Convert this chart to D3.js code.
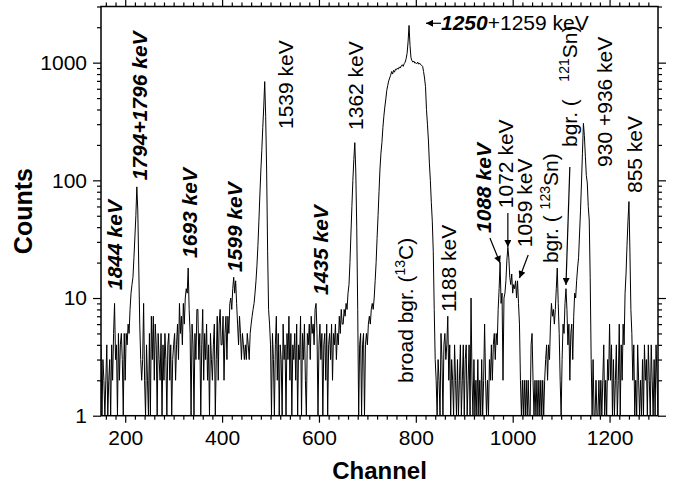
<!DOCTYPE html>
<html>
<head>
<meta charset="utf-8">
<script src="https://cdn.jsdelivr.net/npm/d3@7"></script>
<style>
    body { margin: 0; background: #fff; }
    text { font-family: "Liberation Sans", Arial, sans-serif; fill: #000; }
</style>
</head>
<body>
<div id="chart"></div>
<script>

// spectrum counts, channel 150 ... 1300 every 2 channels
const chStart = 150
const chStep = 2
const counts = [
    4,1,3,2,1,2,4,1,2,3,1,4,2,5,9,3,4,1,5,2,4,5,3,1,5,
    2,5,4,6,5,8,11,13,15,22,33,50,88,55,18,6,3,2,3,9,2,1,4,2,1,
    5,1,7,3,7,2,6,4,1,5,3,2,5,1,4,2,5,3,1,4,5,2,4,1,3,
    4,5,2,4,6,3,9,5,7,4,9,6,10,12,11,18,8,5,1,6,4,1,5,3,8,
    8,3,5,1,4,8,2,5,3,6,2,4,1,5,3,2,4,6,1,3,7,2,6,8,4,
    4,7,2,5,7,3,7,5,9,10,8,12,15,11,14,9,6,4,7,5,3,5,4,3,4,
    3,5,4,3,5,6,7,8,9,11,14,19,28,45,75,120,180,280,420,690,350,120,25,8,6,
    4,1,5,3,1,4,7,2,5,1,4,3,1,6,3,4,1,5,3,7,2,5,1,4,3,
    5,2,6,1,4,3,7,1,5,3,6,2,1,5,4,6,3,7,5,6,4,8,9,5,1,
    4,6,3,5,1,4,5,2,6,1,4,5,3,6,2,5,4,6,3,5,4,7,5,8,6,
    6,8,7,9,8,11,13,20,35,60,100,150,209,120,40,8,1,4,5,1,4,5,1,4,5,
    4,6,7,6,8,9,8,10,14,20,32,50,80,125,170,210,280,350,420,490,580,640,700,740,780,
    840,800,860,830,880,870,900,880,920,900,940,960,930,980,1010,1080,1200,1500,2070,1400,1100,1040,1010,1030,990,
    1000,980,1010,970,990,960,950,930,840,740,625,400,300,220,140,100,65,45,25,8,3,2,1,3,2,
    1,5,3,1,4,5,3,4,7,2,4,1,3,2,1,4,2,1,3,1,2,4,1,2,4,
    1,3,4,1,2,4,1,10,2,1,3,1,2,1,3,1,2,1,3,1,2,6,2,1,2,
    1,3,2,4,2,4,5,3,5,4,8,12,20,9,11,2,10,11,14,21,27,22,15,13,16,
    11,13,12,14,10,14,9,6,2,1,2,1,2,1,2,1,2,1,1,4,5,2,1,2,1,
    2,1,2,1,2,1,2,1,2,3,4,2,4,3,6,9,7,8,6,8,12,18,9,5,2,
    1,3,6,5,9,12,8,4,6,2,5,6,3,7,11,10,14,18,22,35,55,95,170,305,240,
    160,110,95,60,46,15,3,1,3,1,1,2,1,1,2,1,2,1,2,4,1,2,1,3,2,
    6,2,4,1,3,1,2,4,1,2,6,1,4,2,6,4,11,16,28,45,66,25,8,5,2,
    4,1,2,1,4,2,1,2,1,3,1,4,2,3,1,4,2,1,4,2,1,3,1,4,2,
    1
]

const xTicks = [200, 400, 600, 800, 1000, 1200]
const yTicks = [1, 10, 100, 1000]

// peak labels: channel of the text baseline, count where the text starts
const peakLabels = [
    {ch: 193, c: 11.7, parts: [{t: "1844 keV", b: true}]},
    {ch: 245, c: 100, parts: [{t: "1794+1796 keV", b: true}]},
    {ch: 348, c: 21.9, parts: [{t: "1693 keV", b: true}]},
    {ch: 441, c: 16.6, parts: [{t: "1599 keV", b: true}]},
    {ch: 546, c: 273, parts: [{t: "1539 keV"}]},
    {ch: 619, c: 10.6, parts: [{t: "1435 keV", b: true}]},
    {ch: 691, c: 268, parts: [{t: "1362 keV"}]},
    {ch: 794, c: 1.9, parts: [{t: "broad bgr. ("}, {t: "13", sup: true}, {t: "C)"}]},
    {ch: 882, c: 7.6, parts: [{t: "1188 keV"}]},
    {ch: 955, c: 35.7, parts: [{t: "1088 keV", b: true}]},
    {ch: 1000, c: 58, parts: [{t: "1072 keV"}]},
    {ch: 1040, c: 27, parts: [{t: "1059 keV"}]},
    {ch: 1093, c: 19.8, parts: [{t: "bgr. (\u00a0"}, {t: "123", sup: true}, {t: "Sn)"}]},
    {ch: 1133, c: 192, parts: [{t: "bgr. (\u00a0\u00a0\u00a0"}, {t: "121", sup: true}, {t: "Sn)"}]},
    {ch: 1204, c: 130, parts: [{t: "930 +936 keV"}]},
    {ch: 1266, c: 78, parts: [{t: "855 keV"}]}
]

// label for the narrow peak on top of the broad bump
const topLabel = {ch: 852, c: 1890, parts: [{t: "1250", b: true}, {t: "+1259 keV"}]}

// arrows: from (ch1, c1) to (ch2, c2)
const arrows = [
    {ch1: 852, c1: 2160, ch2: 821, c2: 2160},
    {ch1: 953, c1: 32.4, ch2: 974, c2: 19.8},
    {ch1: 990, c1: 52.8, ch2: 990, c2: 27.1},
    {ch1: 1032, c1: 23.2, ch2: 1014, c2: 14.8},
    {ch1: 1118, c1: 130, ch2: 1110, c2: 12.9}
]

const spectrum = counts.map((c, i) => ({ch: chStart + i * chStep, c: c}))

let margin = {top: 6.5, right: 27, bottom: 72.3, left: 101}
let totalW = 685, totalH = 488
let width = totalW - margin.left - margin.right
let height = totalH - margin.top - margin.bottom

let svg = d3.select("#chart").append("svg")
    .attr("width", totalW)
    .attr("height", totalH)

let g = svg.append("g")
    .attr("transform", `translate(${margin.left},${margin.top})`)

let defs = svg.append("defs")
defs.append("clipPath").attr("id", "plotClip")
    .append("rect").attr("width", width).attr("height", height)
defs.append("marker")
    .attr("id", "arrowHead")
    .attr("viewBox", "0 0 10 10")
    .attr("refX", 10).attr("refY", 5)
    .attr("markerWidth", 9).attr("markerHeight", 7)
    .attr("markerUnits", "userSpaceOnUse")
    .attr("orient", "auto")
    .append("path").attr("d", "M0,0L10,5L0,10z").attr("fill", "#000")

// scales
let x = d3.scaleLinear().domain([150, 1300]).range([0, width])
let y = d3.scaleLog().domain([1, 3000]).range([height, 0])

let xMinor = d3.range(160, 1300, 20).filter(v => !xTicks.includes(v))
let yMinor = []
yTicks.forEach(d => { for (let k = 2; k <= 9; k++) if (d * k <= 3000) yMinor.push(d * k) })

function styleAxis(sel) {
    sel.select(".domain").remove()
    sel.selectAll("line").attr("stroke", "#000").attr("stroke-width", 1.2)
    sel.selectAll("text").attr("font-size", 21).attr("fill", "#000")
        .style("font-family", '"Liberation Sans", Arial, sans-serif')
}

// bottom
g.append("g").attr("transform", `translate(0,${height})`)
    .call(d3.axisBottom(x).tickValues(xTicks).tickSize(7).tickPadding(7).tickFormat(d3.format("d")))
    .call(styleAxis)
g.append("g").attr("transform", `translate(0,${height})`)
    .call(d3.axisBottom(x).tickValues(xMinor).tickSize(4).tickFormat(""))
    .call(styleAxis)
// top
g.append("g")
    .call(d3.axisTop(x).tickValues(xTicks).tickSize(7).tickFormat(""))
    .call(styleAxis)
g.append("g")
    .call(d3.axisTop(x).tickValues(xMinor).tickSize(4).tickFormat(""))
    .call(styleAxis)
// left
g.append("g")
    .call(d3.axisLeft(y).tickValues(yTicks).tickSize(8).tickPadding(6).tickFormat(d3.format("d")))
    .call(styleAxis)
g.append("g")
    .call(d3.axisLeft(y).tickValues(yMinor).tickSize(4).tickFormat(""))
    .call(styleAxis)
// right
g.append("g").attr("transform", `translate(${width},0)`)
    .call(d3.axisRight(y).tickValues(yTicks).tickSize(8).tickFormat(""))
    .call(styleAxis)
g.append("g").attr("transform", `translate(${width},0)`)
    .call(d3.axisRight(y).tickValues(yMinor).tickSize(4).tickFormat(""))
    .call(styleAxis)

// frame
g.append("rect")
    .attr("width", width).attr("height", height)
    .attr("fill", "none").attr("stroke", "#000").attr("stroke-width", 1.5)

// spectrum line
g.append("path")
    .datum(spectrum)
    .attr("clip-path", "url(#plotClip)")
    .attr("fill", "none")
    .attr("stroke", "#000")
    .attr("stroke-width", 1)
    .attr("stroke-linejoin", "miter")
    .attr("d", d3.line().x(d => x(d.ch)).y(d => y(Math.max(d.c, 1))))

// labels
function addParts(t, parts) {
    let shift = 0
    parts.forEach(p => {
        let s = t.append("tspan").text(p.t)
        if (p.b) s.attr("font-weight", "bold").attr("font-style", "italic")
        if (p.sup) {
            s.attr("font-size", 14).attr("dy", -8)
            shift = 8
        } else if (shift) {
            s.attr("dy", shift)
            shift = 0
        }
    })
}

peakLabels.forEach(l => {
    let t = g.append("text")
        .attr("transform", `translate(${x(l.ch)},${y(l.c)}) rotate(-90)`)
        .attr("font-size", 21)
    addParts(t, l.parts)
})

let tl = g.append("text")
    .attr("x", x(topLabel.ch)).attr("y", y(topLabel.c))
    .attr("font-size", 21)
addParts(tl, topLabel.parts)

arrows.forEach(a => {
    g.append("line")
        .attr("x1", x(a.ch1)).attr("y1", y(a.c1))
        .attr("x2", x(a.ch2)).attr("y2", y(a.c2))
        .attr("stroke", "#000").attr("stroke-width", 1.2)
        .attr("marker-end", "url(#arrowHead)")
})

// axis titles
svg.append("text")
    .attr("x", margin.left + width / 2).attr("y", 479)
    .attr("text-anchor", "middle")
    .attr("font-size", 24).attr("font-weight", "bold")
    .text("Channel")

svg.append("text")
    .attr("transform", `translate(32,${margin.top + height / 2}) rotate(-90)`)
    .attr("text-anchor", "middle")
    .attr("font-size", 25).attr("font-weight", "bold")
    .text("Counts")

</script>
</body>
</html>
